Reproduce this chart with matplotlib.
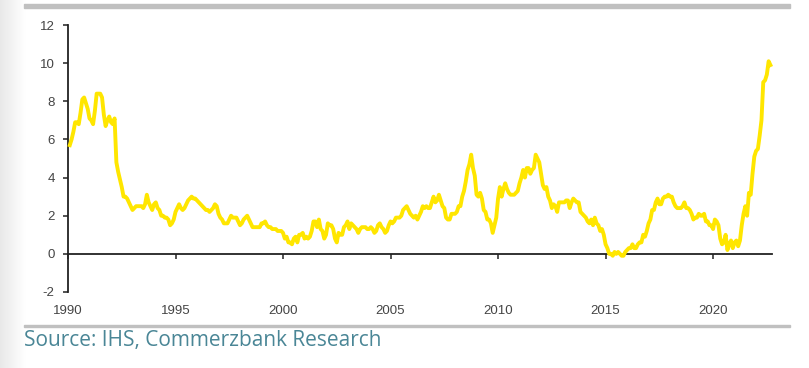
import matplotlib
matplotlib.use("Agg")
import matplotlib.pyplot as plt
from matplotlib.patches import Rectangle
import numpy as np

plt.rcParams["axes.unicode_minus"] = False

# UK consumer prices, % yoy, monthly values
years = list(range(1990, 2023))
cpi_1990s = [
    [5.7, 6.0, 6.4, 6.9, 6.9, 6.8, 7.4, 8.1, 8.2, 7.9, 7.6, 7.1],  # 1990
    [7.0, 6.8, 7.5, 8.4, 8.4, 8.4, 8.2, 7.3, 6.7, 7.0, 7.2, 6.9],  # 1991
    [6.8, 7.1, 4.8, 4.3, 3.9, 3.5, 3.0, 3.0, 2.9, 2.7, 2.5, 2.3],  # 1992
    [2.4, 2.5, 2.5, 2.5, 2.5, 2.4, 2.6, 3.1, 2.7, 2.5, 2.3, 2.6],  # 1993
    [2.7, 2.4, 2.3, 2.0, 2.0, 1.9, 1.9, 1.8, 1.5, 1.6, 1.8, 2.2],  # 1994
    [2.4, 2.6, 2.4, 2.3, 2.4, 2.6, 2.8, 2.9, 3.0, 2.9, 2.9, 2.8],  # 1995
    [2.7, 2.6, 2.5, 2.4, 2.3, 2.3, 2.2, 2.3, 2.4, 2.6, 2.5, 2.1],  # 1996
    [1.9, 1.8, 1.6, 1.6, 1.6, 1.8, 2.0, 1.9, 1.9, 1.9, 1.7, 1.5],  # 1997
    [1.6, 1.8, 1.9, 2.0, 1.8, 1.6, 1.4, 1.4, 1.4, 1.4, 1.4, 1.6],  # 1998
    [1.6, 1.7, 1.5, 1.4, 1.4, 1.3, 1.3, 1.3, 1.2, 1.2, 1.2, 1.1],  # 1999
]
cpi_2000s = [
    [0.8, 0.9, 0.6, 0.6, 0.5, 0.8, 0.9, 0.6, 1.0, 1.0, 1.1, 0.8],  # 2000
    [0.9, 0.8, 0.9, 1.2, 1.7, 1.7, 1.4, 1.8, 1.3, 1.2, 0.8, 1.0],  # 2001
    [1.6, 1.5, 1.5, 1.3, 0.8, 0.6, 1.1, 1.0, 1.0, 1.4, 1.5, 1.7],  # 2002
    [1.3, 1.6, 1.5, 1.4, 1.3, 1.1, 1.3, 1.4, 1.4, 1.4, 1.3, 1.3],  # 2003
    [1.4, 1.3, 1.1, 1.2, 1.5, 1.6, 1.4, 1.3, 1.1, 1.2, 1.5, 1.7],  # 2004
    [1.6, 1.7, 1.9, 1.9, 1.9, 2.0, 2.3, 2.4, 2.5, 2.3, 2.1, 2.0],  # 2005
    [1.9, 2.0, 1.8, 2.0, 2.2, 2.5, 2.4, 2.5, 2.4, 2.4, 2.7, 3.0],  # 2006
    [2.7, 2.8, 3.1, 2.8, 2.5, 2.4, 1.9, 1.8, 1.8, 2.1, 2.1, 2.1],  # 2007
    [2.2, 2.5, 2.5, 3.0, 3.3, 3.8, 4.4, 4.7, 5.2, 4.5, 4.1, 3.1],  # 2008
    [3.0, 3.2, 2.9, 2.3, 2.2, 1.8, 1.8, 1.6, 1.1, 1.5, 1.9, 2.9],  # 2009
]
cpi_2010s = [
    [3.5, 3.0, 3.4, 3.7, 3.4, 3.2, 3.1, 3.1, 3.1, 3.2, 3.3, 3.7],  # 2010
    [4.0, 4.4, 4.0, 4.5, 4.5, 4.2, 4.4, 4.5, 5.2, 5.0, 4.8, 4.2],  # 2011
    [3.6, 3.4, 3.5, 3.0, 2.8, 2.4, 2.6, 2.5, 2.2, 2.7, 2.7, 2.7],  # 2012
    [2.7, 2.8, 2.8, 2.4, 2.7, 2.9, 2.8, 2.7, 2.7, 2.2, 2.1, 2.0],  # 2013
    [1.9, 1.7, 1.6, 1.8, 1.5, 1.9, 1.6, 1.5, 1.2, 1.3, 1.0, 0.5],  # 2014
    [0.3, 0.0, 0.0, -0.1, 0.1, 0.0, 0.1, 0.0, -0.1, -0.1, 0.1, 0.2],  # 2015
    [0.3, 0.3, 0.5, 0.3, 0.3, 0.5, 0.6, 0.6, 1.0, 0.9, 1.2, 1.6],  # 2016
    [1.8, 2.3, 2.3, 2.7, 2.9, 2.6, 2.6, 2.9, 3.0, 3.0, 3.1, 3.0],  # 2017
    [3.0, 2.7, 2.5, 2.4, 2.4, 2.4, 2.5, 2.7, 2.4, 2.4, 2.3, 2.1],  # 2018
    [1.8, 1.9, 1.9, 2.1, 2.0, 2.0, 2.1, 1.7, 1.7, 1.5, 1.5, 1.3],  # 2019
]
cpi_2020s = [
    [1.8, 1.7, 1.5, 0.8, 0.5, 0.6, 1.0, 0.2, 0.5, 0.7, 0.3, 0.6],  # 2020
    [0.7, 0.4, 0.7, 1.5, 2.1, 2.5, 2.0, 3.2, 3.1, 4.2, 5.1, 5.4],  # 2021
    [5.5, 6.2, 7.0, 9.0, 9.1, 9.4, 10.1, 9.9],  # 2022 (to August)
]

y_ticks = [-2, 0, 2, 4, 6, 8, 10, 12]
x_ticks = [1990, 1995, 2000, 2005, 2010, 2015, 2020]
source_text = "Source: IHS, Commerzbank Research"

rows = cpi_1990s + cpi_2000s + cpi_2010s + cpi_2020s
dates = []
values = []
for yr, row in zip(years, rows):
    for m, v in enumerate(row):
        dates.append(yr + (m + 1) / 12)  # plotted at month end
        values.append(v)

W, H = 809, 368
fig = plt.figure(figsize=(W / 100, H / 100), dpi=100)
fig.patch.set_facecolor("white")

# light grey shading on the left edge
grad = fig.add_axes([0, 0, 26 / W, 1])
grad.imshow(np.linspace(0.91, 1.0, 64)[None, :], cmap="gray", vmin=0, vmax=1,
            aspect="auto", extent=[0, 1, 0, 1])
grad.axis("off")

# grey rules at top and under the chart
fig.patches.append(Rectangle((24 / W, 1 - 7.5 / H), (790 - 24) / W, 3.5 / H,
                             transform=fig.transFigure, color="#c0c0c0", zorder=0))
fig.patches.append(Rectangle((24 / W, 1 - 327 / H), (790 - 24) / W, 2.5 / H,
                             transform=fig.transFigure, color="#c0c0c0", zorder=0))

ax = fig.add_axes([68 / W, (H - 292) / H, (772 - 68) / W, (292 - 25) / H])
ax.set_facecolor("none")
ax.plot(dates, values, color="#ffe600", lw=2.8, solid_joinstyle="round",
        clip_on=False, zorder=3)

ax.set_xlim(1990, 2022.74)
ax.set_ylim(-2, 12)
ax.set_yticks(y_ticks)
ax.set_xticks(x_ticks)

for s in ["top", "right"]:
    ax.spines[s].set_visible(False)
ax.spines["bottom"].set_position(("data", 0))
ax.spines["bottom"].set_color("#222222")
ax.spines["left"].set_color("#222222")
ax.spines["bottom"].set_linewidth(1.3)
ax.spines["left"].set_linewidth(1.3)

ax.tick_params(axis="y", direction="out", length=3.6, width=1.1, color="#222222",
               pad=6, labelsize=9.5, labelcolor="#444444")
ax.tick_params(axis="x", direction="out", length=3.6, width=1.1, color="#222222",
               pad=33, labelsize=9.5, labelcolor="#444444")
for lab in ax.get_xticklabels() + ax.get_yticklabels():
    lab.set_fontfamily("Liberation Sans")

fig.text(24 / W, 1 - 346 / H, source_text, fontsize=15, color="#4a8696",
         family="Open Sans", ha="left", va="baseline")

fig.savefig("out.png", dpi=100, facecolor="white")
